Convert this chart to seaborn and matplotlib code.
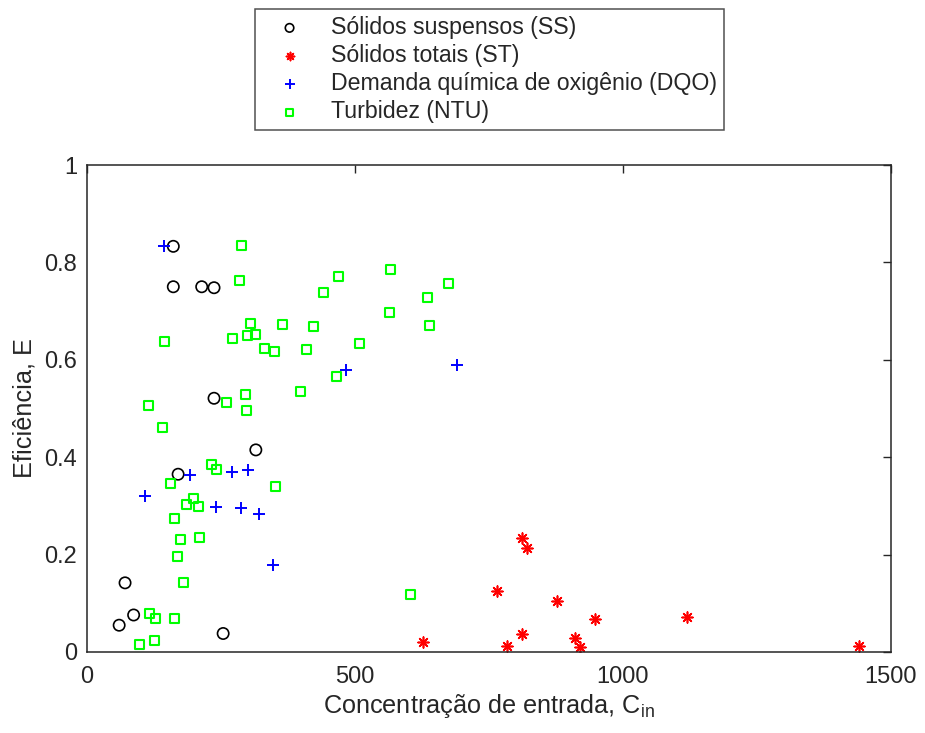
import matplotlib
matplotlib.use("Agg")
import matplotlib.pyplot as plt
import seaborn as sns
import pandas as pd

# ---- data ----
ss_x = [161, 161, 214, 237, 237, 315, 170, 71, 87, 60, 254]
ss_y = [0.833, 0.750, 0.750, 0.748, 0.521, 0.415, 0.365, 0.142, 0.076, 0.055, 0.038]

st_x = [626, 764, 783, 811, 820, 811, 877, 910, 920, 947, 1120, 1440]
st_y = [0.020, 0.126, 0.012, 0.235, 0.214, 0.036, 0.105, 0.029, 0.011, 0.068, 0.071, 0.012]

dqo_x = [144, 483, 691, 192, 109, 271, 300, 240, 287, 320, 347]
dqo_y = [0.833, 0.580, 0.590, 0.363, 0.320, 0.370, 0.374, 0.297, 0.295, 0.283, 0.179]

ntu_x = [288, 284, 469, 441, 305, 364, 422, 145, 272, 300, 315, 331, 349, 409, 509,
         465, 398, 295, 260, 297, 114, 140, 566, 674, 636, 565, 639, 233, 242, 352,
         156, 198, 185, 208, 164, 210, 175, 168, 180, 117, 127, 164, 98, 126, 604]
ntu_y = [0.834, 0.762, 0.771, 0.738, 0.675, 0.673, 0.669, 0.638, 0.644, 0.649, 0.652,
         0.624, 0.617, 0.621, 0.633, 0.565, 0.535, 0.528, 0.512, 0.496, 0.507, 0.462,
         0.785, 0.757, 0.728, 0.698, 0.671, 0.386, 0.375, 0.340, 0.345, 0.316, 0.302,
         0.299, 0.275, 0.235, 0.230, 0.196, 0.142, 0.080, 0.068, 0.068, 0.016, 0.023,
         0.119]

labels = ["Sólidos suspensos (SS)", "Sólidos totais (ST)",
          "Demanda química de oxigênio (DQO)", "Turbidez (NTU)"]
x_ticks = [0, 500, 1000, 1500]
x_ticklabels = ["0", "500", "1000", "1500"]
y_ticks = [0, 0.2, 0.4, 0.6, 0.8, 1.0]
y_ticklabels = ["0", "0.2", "0.4", "0.6", "0.8", "1"]

# ---- style ----
sns.set_style("white")
plt.rcParams["font.family"] = ["Liberation Sans", "DejaVu Sans"]
plt.rcParams["mathtext.fontset"] = "custom"
plt.rcParams["mathtext.rm"] = "Liberation Sans"
plt.rcParams["mathtext.it"] = "Liberation Sans"

fig = plt.figure(figsize=(9.25, 7.33), dpi=100)
ax = fig.add_axes([87 / 925, (733 - 652) / 733, (891 - 87) / 925, 487 / 733])

df_ss = pd.DataFrame({"x": ss_x, "y": ss_y})
df_st = pd.DataFrame({"x": st_x, "y": st_y})
df_dqo = pd.DataFrame({"x": dqo_x, "y": dqo_y})
df_ntu = pd.DataFrame({"x": ntu_x, "y": ntu_y})

sns.scatterplot(data=df_ss, x="x", y="y", ax=ax, marker="o", s=66,
                facecolor="none", edgecolor="black", linewidth=1.2, label=labels[0])
sns.scatterplot(data=df_st, x="x", y="y", ax=ax, marker=(8, 2, 0), s=60,
                color="#ff0000", edgecolor="#ff0000", linewidth=1.2, label=labels[1])
sns.scatterplot(data=df_dqo, x="x", y="y", ax=ax, marker="+", s=75,
                color="#0000ff", edgecolor="#0000ff", linewidth=1.4, label=labels[2])
sns.scatterplot(data=df_ntu, x="x", y="y", ax=ax, marker="s", s=42,
                facecolor="none", edgecolor="#00ff00", linewidth=1.5, label=labels[3])

ax.set_xlim(0, 1500)
ax.set_ylim(0, 1)
ax.set_xticks(x_ticks, x_ticklabels)
ax.set_yticks(y_ticks, y_ticklabels)
ax.tick_params(direction="in", length=6, width=1, top=True, right=True,
               labelsize=17, colors="#262626")
ax.tick_params(axis="x", pad=10)
ax.tick_params(axis="y", pad=7)
for sp in ax.spines.values():
    sp.set_visible(True)
    sp.set_color("#262626")
    sp.set_linewidth(1.1)

ax.set_xlabel("Concentração de entrada, C$_{\\mathrm{in}}$", fontsize=18.2, color="#262626", labelpad=3)
ax.set_ylabel("Eficiência, E", fontsize=18.2, color="#262626", labelpad=6)

if ax.legend_:
    ax.legend_.remove()
handles, lbls = ax.get_legend_handles_labels()
leg = fig.legend(handles, lbls, loc="upper center", bbox_to_anchor=(489.5 / 925, 1 - 9 / 733),
                 fontsize=16.7, frameon=True, fancybox=False, edgecolor="#262626",
                 markerscale=0.75, handletextpad=0.6, labelspacing=0.22, borderpad=0.3,
                 handlelength=2.4, borderaxespad=0)
leg.get_frame().set_linewidth(1.1)

fig.savefig("out.png", dpi=100)
